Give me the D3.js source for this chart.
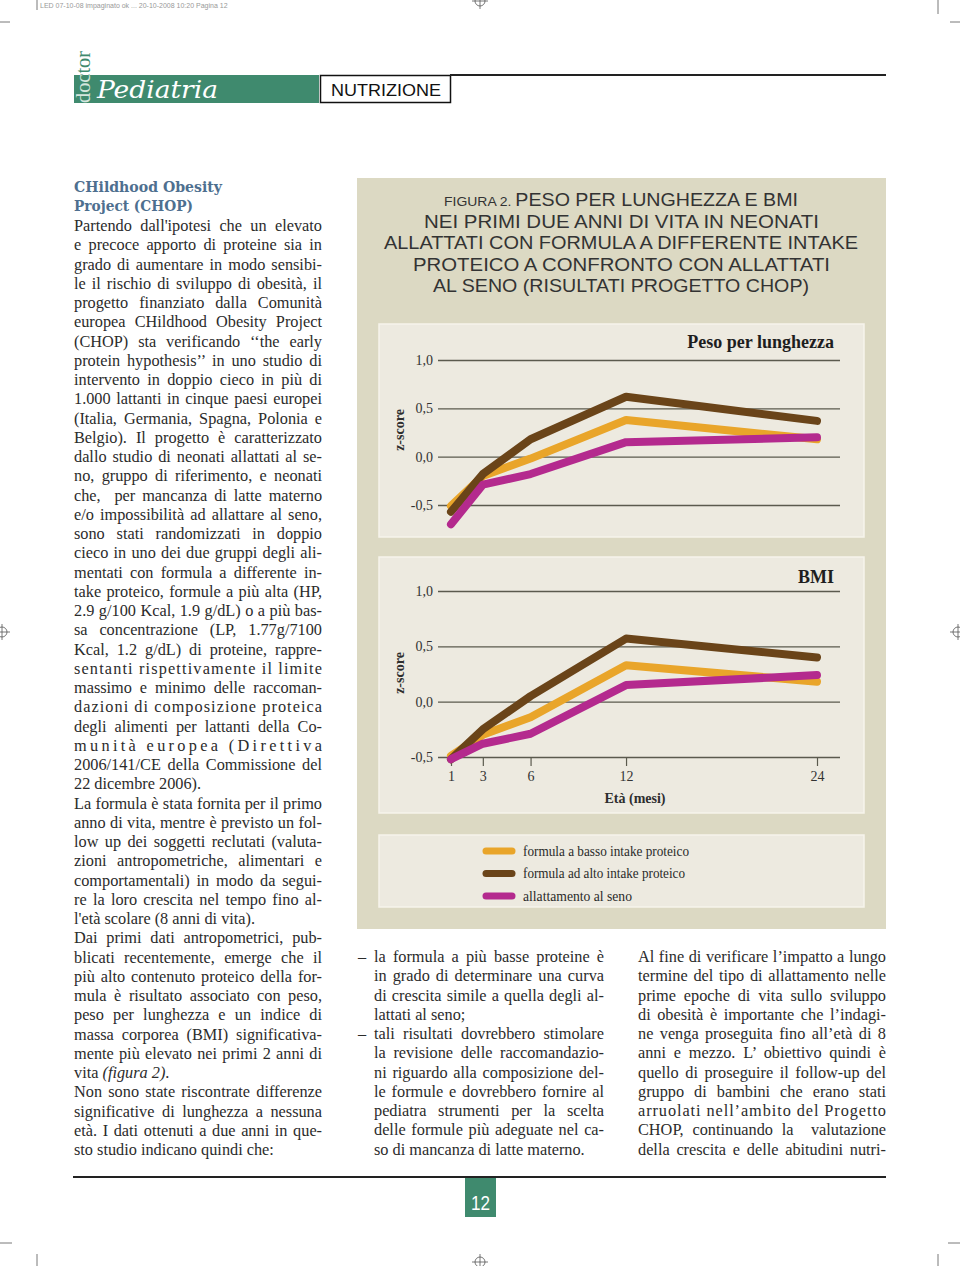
<!DOCTYPE html>
<html><head><meta charset="utf-8">
<script src="https://cdn.jsdelivr.net/npm/d3@7"></script>
<style>
html,body{margin:0;padding:0;background:#fff;}
svg{display:block;}
</style></head>
<body>
<svg id="page" width="960" height="1266"></svg>
<script>
// ---------- DATA ----------
const months = [1, 3, 6, 12, 24];
const seriesNames = ["formula a basso intake proteico", "formula ad alto intake proteico", "allattamento al seno"];
const seriesColors = ["#e9a52a", "#6a4419", "#b42a8e"];
// Peso per lunghezza (z-score)
const wflLow  = [-0.51, -0.20, -0.02, 0.38, 0.18];
const wflHigh = [-0.57, -0.18, 0.18, 0.62, 0.37];
const wflBreast = [-0.70, -0.29, -0.18, 0.15, 0.20];
// BMI (z-score)
const bmiLow  = [-0.49, -0.30, -0.14, 0.33, 0.18];
const bmiHigh = [-0.52, -0.25, 0.05, 0.57, 0.40];
const bmiBreast = [-0.52, -0.38, -0.29, 0.15, 0.24];
const yTicks = [-0.5, 0.0, 0.5, 1.0];
const yTickLabels = ["-0,5", "0,0", "0,5", "1,0"];
const xTickLabels = ["1", "3", "6", "12", "24"];

const titleLines = [
  ["FIGURA 2. ", "PESO PER LUNGHEZZA E BMI"],
  ["", "NEI PRIMI DUE ANNI DI VITA IN NEONATI"],
  ["", "ALLATTATI CON FORMULA A DIFFERENTE INTAKE"],
  ["", "PROTEICO A CONFRONTO CON ALLATTATI"],
  ["", "AL SENO (RISULTATI PROGETTO CHOP)"]
];

// ---------- PAGE TEXT ----------
const leftCol = [
 ["Partendo dall'ipotesi che un elevato",1],
 ["e precoce apporto di proteine sia in",1],
 ["grado di aumentare in modo sensibi-",1],
 ["le il rischio di sviluppo di obesità, il",1],
 ["progetto finanziato dalla Comunità",1],
 ["europea CHildhood Obesity Project",1],
 ["(CHOP) sta verificando ‘‘the early",1],
 ["protein hypothesis’’ in uno studio di",1],
 ["intervento in doppio cieco in più di",1],
 ["1.000 lattanti in cinque paesi europei",1],
 ["(Italia, Germania, Spagna, Polonia e",1],
 ["Belgio). Il progetto è caratterizzato",1],
 ["dallo studio di neonati allattati al se-",1],
 ["no, gruppo di riferimento, e neonati",1],
 ["che,  per mancanza di latte materno",1],
 ["e/o impossibilità ad allattare al seno,",1],
 ["sono stati randomizzati in doppio",1],
 ["cieco in uno dei due gruppi degli ali-",1],
 ["mentati con formula a differente in-",1],
 ["take proteico, formule a più alta (HP,",1],
 ["2.9 g/100 Kcal, 1.9 g/dL) o a più bas-",1],
 ["sa concentrazione (LP, 1.77g/7100",1],
 ["Kcal, 1.2 g/dL) di proteine, rappre-",1],
 ["sentanti rispettivamente il limite",1],
 ["massimo e minimo delle raccoman-",1],
 ["dazioni di composizione proteica",1],
 ["degli alimenti per lattanti della Co-",1],
 ["munità europea (Direttiva",2],
 ["2006/141/CE della Commissione del",1],
 ["22 dicembre 2006).",0],
 ["La formula è stata fornita per il primo",1],
 ["anno di vita, mentre è previsto un fol-",1],
 ["low up dei soggetti reclutati (valuta-",1],
 ["zioni antropometriche, alimentari e",1],
 ["comportamentali) in modo da segui-",1],
 ["re la loro crescita nel tempo fino al-",1],
 ["l'età scolare (8 anni di vita).",0],
 ["Dai primi dati antropometrici, pub-",1],
 ["blicati recentemente, emerge che il",1],
 ["più alto contenuto proteico della for-",1],
 ["mula è risultato associato con peso,",1],
 ["peso per lunghezza e un indice di",1],
 ["massa corporea (BMI) significativa-",1],
 ["mente più elevato nei primi 2 anni di",1],
 ["vita (figura 2).",3],
 ["Non sono state riscontrate differenze",1],
 ["significative di lunghezza a nessuna",1],
 ["età. I dati ottenuti a due anni in que-",1],
 ["sto studio indicano quindi che:",0]
];
const midCol = [
 ["la formula a più basse proteine è",1,1],
 ["in grado di determinare una curva",1,0],
 ["di crescita simile a quella degli al-",1,0],
 ["lattati al seno;",0,0],
 ["tali risultati dovrebbero stimolare",1,1],
 ["la revisione delle raccomandazio-",1,0],
 ["ni riguardo alla composizione del-",1,0],
 ["le formule e dovrebbero fornire al",1,0],
 ["pediatra strumenti per la scelta",1,0],
 ["delle formule più adeguate nel ca-",1,0],
 ["so di mancanza di latte materno.",0,0]
];
const rightCol = [
 "Al fine di verificare l’impatto a lungo",
 "termine del tipo di allattamento nelle",
 "prime epoche di vita sullo sviluppo",
 "di obesità è importante che l’indagi-",
 "ne venga proseguita fino all’età di 8",
 "anni e mezzo. L’ obiettivo quindi è",
 "quello di proseguire il follow-up del",
 "gruppo di bambini che erano stati",
 "arruolati nell’ambito del Progetto",
 "CHOP, continuando la  valutazione",
 "della crescita e delle abitudini nutri-"
];

const svg = d3.select("#page");
const GREEN = "#3f8a6e";
const TXT = "#2b2b2b";
const bodyFont = "'Liberation Serif', 'Times New Roman', serif";

// ---------- crop marks ----------
const marks = svg.append("g").attr("stroke", "#555").attr("stroke-width", 0.8).attr("fill", "none");
[[37,0,37,10],[938,0,938,14],[0,22,10,22],[950,22,960,22],[0,1243,12,1243],[948,1243,960,1243],[37,1254,37,1266],[938,1254,938,1266]]
 .forEach(l => marks.append("line").attr("x1", l[0]).attr("y1", l[1]).attr("x2", l[2]).attr("y2", l[3]));
[[480,1],[2,632],[958,632],[480,1262]].forEach(p => {
  marks.append("circle").attr("cx", p[0]).attr("cy", p[1]).attr("r", 5);
  marks.append("line").attr("x1", p[0]-8).attr("x2", p[0]+8).attr("y1", p[1]).attr("y2", p[1]);
  marks.append("line").attr("x1", p[0]).attr("x2", p[0]).attr("y1", p[1]-8).attr("y2", p[1]+8);
});
svg.append("text").attr("x", 40).attr("y", 8).attr("font-family", "'Liberation Sans', sans-serif")
  .attr("font-size", 7).attr("fill", "#999").text("LED 07-10-08 impaginato ok ... 20-10-2008 10:20 Pagina 12");

// ---------- header ----------
svg.append("rect").attr("x", 74).attr("y", 75).attr("width", 245).attr("height", 28).attr("fill", GREEN);
svg.append("text").attr("transform", "translate(90,103) rotate(-90)")
  .attr("font-family", bodyFont).attr("font-size", 20).attr("fill", GREEN)
  .attr("textLength", 52).attr("lengthAdjust", "spacingAndGlyphs").text("doctor");
svg.append("clipPath").attr("id", "barclip").append("rect").attr("x", 74).attr("y", 75).attr("width", 245).attr("height", 28);
svg.append("g").attr("clip-path", "url(#barclip)")
  .append("text").attr("transform", "translate(90,103) rotate(-90)")
  .attr("font-family", bodyFont).attr("font-size", 20).attr("fill", "#d4e6dd")
  .attr("textLength", 52).attr("lengthAdjust", "spacingAndGlyphs").text("doctor");
svg.append("text").attr("x", 97).attr("y", 98).attr("font-family", "'DejaVu Serif', serif")
  .attr("font-style", "italic").attr("font-size", 24).attr("fill", "#fff")
  .attr("textLength", 121).attr("lengthAdjust", "spacingAndGlyphs").text("Pediatria");
svg.append("rect").attr("x", 320.5).attr("y", 75.5).attr("width", 130).attr("height", 27)
  .attr("fill", "#fff").attr("stroke", "#111").attr("stroke-width", 1.5);
svg.append("line").attr("x1", 450).attr("x2", 886).attr("y1", 75).attr("y2", 75).attr("stroke", "#222").attr("stroke-width", 2);
svg.append("text").attr("x", 331).attr("y", 96).attr("font-family", "'Liberation Sans', sans-serif")
  .attr("font-size", 17).attr("fill", "#111").attr("textLength", 110).attr("lengthAdjust", "spacingAndGlyphs").text("NUTRIZIONE");

// ---------- left column ----------
svg.append("text").attr("x", 74).attr("y", 192).attr("font-family", "'DejaVu Serif', serif")
  .attr("font-weight", "bold").attr("font-size", 14).attr("fill", "#4e6f8f")
  .attr("textLength", 148).attr("lengthAdjust", "spacingAndGlyphs").text("CHildhood Obesity");
svg.append("text").attr("x", 74).attr("y", 211).attr("font-family", "'DejaVu Serif', serif")
  .attr("font-weight", "bold").attr("font-size", 14).attr("fill", "#4e6f8f")
  .attr("textLength", 119).attr("lengthAdjust", "spacingAndGlyphs").text("Project (CHOP)");

function justify(sel, width) {
  const n = sel.node();
  const nat = n.getComputedTextLength();
  const txt = n.textContent;
  const spaces = (txt.match(/ /g) || []).length;
  const extra = width - nat;
  if (spaces > 0 && Math.abs(extra / spaces) < 10) {
    sel.attr("word-spacing", (extra / spaces).toFixed(2));
  } else {
    sel.attr("textLength", width).attr("lengthAdjust", "spacing");
  }
}

function bodyLine(x, y, str, width, just) {
  const t = svg.append("text").attr("x", x).attr("y", y)
    .attr("font-family", bodyFont).attr("font-size", 16.3).attr("fill", TXT)
    .attr("xml:space", "preserve").style("white-space", "pre");
  if (just === 3) {
    t.append("tspan").text("vita ");
    t.append("tspan").attr("font-style", "italic").text("(figura 2)");
    t.append("tspan").text(".");
    return;
  }
  t.text(str);
  if (just === 1) justify(t, width);
  if (just === 2) t.attr("textLength", width).attr("lengthAdjust", "spacing");
}
const LH = 19.25;
leftCol.forEach((l, i) => bodyLine(74, 231 + i * LH, l[0], 248, l[1]));
midCol.forEach((l, i) => {
  const y = 962 + i * LH;
  if (l[2]) svg.append("text").attr("x", 358).attr("y", y).attr("font-family", bodyFont)
    .attr("font-size", 16.3).attr("fill", TXT).text("–");
  bodyLine(374, y, l[0], 230, l[1]);
});
rightCol.forEach((l, i) => bodyLine(638, 962 + i * LH, l, 248, 1));

// ---------- footer ----------
svg.append("line").attr("x1", 73).attr("x2", 886).attr("y1", 1177).attr("y2", 1177).attr("stroke", "#222").attr("stroke-width", 2);
svg.append("rect").attr("x", 465).attr("y", 1178).attr("width", 31).attr("height", 39).attr("fill", GREEN);
svg.append("text").attr("x", 480.5).attr("y", 1210).attr("text-anchor", "middle")
  .attr("font-family", "'Liberation Sans', sans-serif").attr("font-size", 21).attr("fill", "#fff")
  .attr("textLength", 19).attr("lengthAdjust", "spacingAndGlyphs").text("12");

// ---------- figure ----------
svg.append("rect").attr("x", 357).attr("y", 178).attr("width", 529).attr("height", 751).attr("fill", "#dcd9c3");
const titleW = [[444, 798], [424, 819], [384, 858], [413, 830], [433, 809]];
const titleY = [206, 227.5, 249, 270.5, 292];
titleLines.forEach((tl, i) => {
  const t = svg.append("text").attr("x", titleW[i][0]).attr("y", titleY[i])
    .attr("font-family", "'Liberation Sans', sans-serif")
    .attr("font-size", 19).attr("fill", "#333")
    .attr("textLength", titleW[i][1] - titleW[i][0]).attr("lengthAdjust", "spacingAndGlyphs")
    .attr("xml:space", "preserve").style("white-space", "pre");
  if (tl[0]) t.append("tspan").attr("font-size", 13.5).text(tl[0]);
  t.append("tspan").text(tl[1]);
});

const panels = [
  {y0: 324, h: 213, range: [505, 360], label: "Peso per lunghezza", labelY: 348, zY: 430, data: [wflLow, wflHigh, wflBreast], xaxis: false},
  {y0: 557, h: 256, range: [757, 591], label: "BMI", labelY: 583, zY: 673, data: [bmiLow, bmiHigh, bmiBreast], xaxis: true}
];
const x = d3.scaleLinear().domain([1, 24]).range([451, 817]);
const gridX0 = 438, gridX1 = 840;
const serif = "'Liberation Serif', serif";

panels.forEach(p => {
  svg.append("rect").attr("x", 379).attr("y", p.y0).attr("width", 485).attr("height", p.h)
    .attr("fill", "#edeae0").attr("stroke", "#f6f4ec").attr("stroke-width", 1.5);
  const y = d3.scaleLinear().domain([-0.5, 1.0]).range(p.range);
  const ax = svg.append("g").attr("transform", `translate(${gridX0},0)`)
    .call(d3.axisLeft(y).tickValues(yTicks).tickSize(-(gridX1 - gridX0)).tickPadding(5)
      .tickFormat((d, i) => yTickLabels[i]));
  ax.select(".domain").remove();
  ax.selectAll(".tick line").attr("stroke", "#5b5a4e").attr("stroke-width", 1.4);
  ax.selectAll(".tick text").attr("font-family", serif).attr("font-size", 14).attr("fill", "#333");
  if (p.xaxis) {
    const bx = svg.append("g").attr("transform", `translate(0,${p.range[0]})`)
      .call(d3.axisBottom(x).tickValues(months).tickSize(9).tickPadding(5).tickFormat((d, i) => xTickLabels[i]));
    bx.select(".domain").remove();
    bx.selectAll(".tick line").attr("stroke", "#5b5a4e").attr("stroke-width", 1.2);
    bx.selectAll(".tick text").attr("font-family", serif).attr("font-size", 14).attr("fill", "#333");
    svg.append("text").attr("x", 635).attr("y", 803).attr("text-anchor", "middle")
      .attr("font-family", serif).attr("font-weight", "bold").attr("font-size", 14).attr("fill", "#2e2e2e")
      .text("Età (mesi)");
  }
  svg.append("text").attr("x", 834).attr("y", p.labelY).attr("text-anchor", "end")
    .attr("font-family", serif).attr("font-weight", "bold").attr("font-size", 18).attr("fill", "#1e1e1e")
    .text(p.label);
  svg.append("text").attr("transform", `translate(404,${p.zY}) rotate(-90)`).attr("text-anchor", "middle")
    .attr("font-family", serif).attr("font-weight", "bold").attr("font-size", 14).attr("fill", "#2e2e2e")
    .text("z-score");
  const line = d3.line().x((d, i) => x(months[i])).y(d => y(d));
  p.data.forEach((s, k) => {
    svg.append("path").attr("d", line(s)).attr("fill", "none").attr("stroke", seriesColors[k])
      .attr("stroke-width", 8).attr("stroke-linecap", "round").attr("stroke-linejoin", "round");
  });
});

// legend
svg.append("rect").attr("x", 379).attr("y", 835).attr("width", 485).attr("height", 72)
  .attr("fill", "#edeae0").attr("stroke", "#f6f4ec").attr("stroke-width", 1.5);
const legW = [166, 162, 109];
seriesNames.forEach((n, i) => {
  const cy = 851 + i * 22.5;
  svg.append("line").attr("x1", 486).attr("x2", 512).attr("y1", cy).attr("y2", cy)
    .attr("stroke", seriesColors[i]).attr("stroke-width", 7).attr("stroke-linecap", "round");
  svg.append("text").attr("x", 523).attr("y", cy + 4.5).attr("font-family", serif).attr("font-size", 14)
    .attr("fill", "#2a2a2a").attr("textLength", legW[i]).attr("lengthAdjust", "spacingAndGlyphs").text(n);
});
</script>
</body></html>
